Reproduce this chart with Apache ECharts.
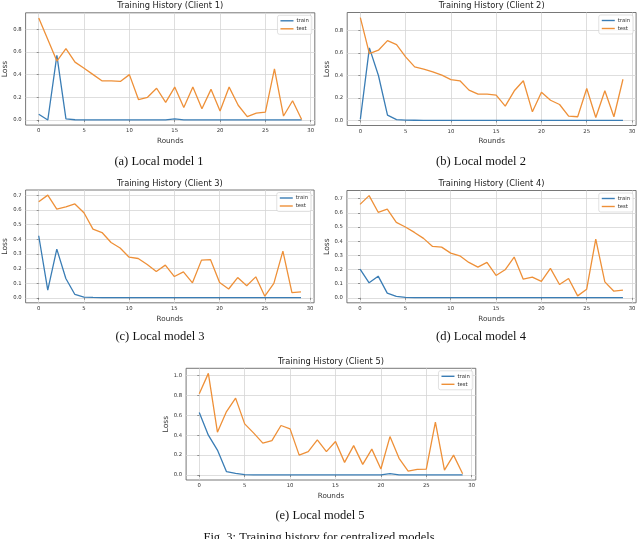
<!DOCTYPE html>
<html>
<head>
<meta charset="utf-8">
<script src="https://cdn.jsdelivr.net/npm/echarts@6/dist/echarts.min.js"></script>
<style>
html,body{margin:0;padding:0;background:#fff;}
#chart{width:640px;height:539px;}
</style>
</head>
<body>
<div id="chart"></div>
<script>
const rounds = [0,1,2,3,4,5,6,7,8,9,10,11,12,13,14,15,16,17,18,19,20,21,22,23,24,25,26,27,28,29];
const xTicks = [0,5,10,15,20,25,30];

const trainC1 = [0.05,0.0,0.57,0.01,0.002,0.001,0.001,0.001,0.001,0.001,0.001,0.001,0.001,0.001,0.001,0.01,0.001,0.001,0.001,0.001,0.001,0.001,0.001,0.001,0.001,0.001,0.001,0.001,0.001,0.001];
const testC1  = [0.90,0.71,0.52,0.63,0.51,0.456,0.40,0.344,0.344,0.34,0.40,0.18,0.20,0.28,0.155,0.29,0.11,0.29,0.10,0.27,0.08,0.29,0.13,0.03,0.06,0.07,0.45,0.035,0.17,0.005];

const trainC2 = [0.01,0.646,0.40,0.047,0.008,0.003,0.002,0.001,0.001,0.001,0.001,0.001,0.001,0.001,0.001,0.001,0.001,0.001,0.001,0.001,0.001,0.001,0.001,0.001,0.001,0.001,0.001,0.001,0.001,0.001];
const testC2  = [0.915,0.595,0.625,0.71,0.675,0.566,0.477,0.456,0.433,0.403,0.364,0.353,0.27,0.234,0.234,0.225,0.127,0.264,0.353,0.077,0.252,0.18,0.142,0.039,0.033,0.284,0.027,0.264,0.033,0.367];

const trainC3 = [0.423,0.052,0.332,0.132,0.023,0.005,0.003,0.002,0.001,0.001,0.001,0.001,0.001,0.001,0.001,0.001,0.001,0.001,0.001,0.001,0.001,0.001,0.001,0.001,0.001,0.001,0.001,0.001,0.001,0.001];
const testC3  = [0.655,0.70,0.605,0.62,0.64,0.58,0.468,0.445,0.377,0.34,0.277,0.268,0.227,0.18,0.223,0.145,0.177,0.102,0.257,0.26,0.105,0.06,0.138,0.082,0.143,0.011,0.098,0.318,0.036,0.041];

const trainC4 = [0.203,0.106,0.153,0.033,0.01,0.003,0.002,0.001,0.001,0.001,0.001,0.001,0.001,0.001,0.001,0.001,0.001,0.001,0.001,0.001,0.001,0.001,0.001,0.001,0.001,0.001,0.001,0.001,0.001,0.001];
const testC4  = [0.66,0.722,0.604,0.627,0.533,0.50,0.462,0.42,0.363,0.358,0.316,0.297,0.25,0.217,0.25,0.158,0.198,0.288,0.132,0.146,0.116,0.208,0.094,0.137,0.014,0.061,0.415,0.113,0.047,0.054];

const trainC5 = [0.627,0.40,0.25,0.033,0.017,0.003,0.002,0.001,0.001,0.001,0.001,0.001,0.001,0.001,0.001,0.001,0.001,0.001,0.001,0.001,0.001,0.015,0.002,0.001,0.001,0.001,0.001,0.001,0.001,0.001];
const testC5  = [0.815,1.02,0.43,0.637,0.772,0.513,0.42,0.32,0.345,0.497,0.463,0.20,0.235,0.352,0.235,0.336,0.127,0.295,0.107,0.26,0.06,0.386,0.168,0.04,0.057,0.06,0.53,0.05,0.20,0.013];

const yTicks12 = [0,0.2,0.4,0.6,0.8];
const yTicks34 = [0,0.1,0.2,0.3,0.4,0.5,0.6,0.7];
const yTicks5  = [0,0.2,0.4,0.6,0.8,1.0];

const titles = ['Training History (Client 1)','Training History (Client 2)','Training History (Client 3)','Training History (Client 4)','Training History (Client 5)'];
const captions = ['(a) Local model 1','(b) Local model 2','(c) Local model 3','(d) Local model 4','(e) Local model 5'];
const figCaption = 'Fig. 3: Training history for centralized models';

const panels = [
  {train: trainC1, test: testC1, yt: yTicks12, g: {left: 25.6, top: 12.8, width: 289.2, height: 112.3}, cap: [159, 162]},
  {train: trainC2, test: testC2, yt: yTicks12, g: {left: 347.2, top: 12.5, width: 288.9, height: 113}, cap: [481, 162]},
  {train: trainC3, test: testC3, yt: yTicks34, g: {left: 25.6, top: 190, width: 288.5, height: 112.8}, cap: [160, 337]},
  {train: trainC4, test: testC4, yt: yTicks34, g: {left: 346.9, top: 190.5, width: 289.2, height: 112.3}, cap: [481, 337]},
  {train: trainC5, test: testC5, yt: yTicks5, g: {left: 186.1, top: 368.3, width: 289.7, height: 111.7}, cap: [320, 516]}
];

const TRAIN = '#3a7db5', TEST = '#ee9038';
const FONT = '"DejaVu Sans", sans-serif';
const grids = [], xAxes = [], yAxes = [], series = [], legends = [], graphics = [];

panels.forEach((p, i) => {
  grids.push(Object.assign({show: true, borderColor: '#555', borderWidth: 0.8, backgroundColor: '#fff'}, p.g));
  const all = p.train.concat(p.test);
  const lo = Math.min(...all), hi = Math.max(...all), pad = 0.05 * (hi - lo);
  xAxes.push({
    type: 'value', gridIndex: i, min: -1.45, max: 30.45,
    name: 'Rounds', nameLocation: 'middle', nameGap: 12.5,
    nameTextStyle: {fontSize: 7.2, fontFamily: FONT, color: '#333'},
    axisLine: {show: false},
    axisTick: {show: true, length: 2, customValues: xTicks, lineStyle: {color: '#555', width: 0.6}},
    axisLabel: {fontSize: 5.3, fontFamily: FONT, color: '#333', margin: 3.5, customValues: xTicks},
    splitLine: {show: true, lineStyle: {color: '#d6d6d6', width: 0.8}}
  });
  yAxes.push({
    type: 'value', gridIndex: i, min: lo - pad, max: hi + pad,
    name: 'Loss', nameLocation: 'middle', nameGap: 13,
    nameTextStyle: {fontSize: 7.5, fontFamily: FONT, color: '#333'},
    axisLine: {show: false},
    axisTick: {show: true, length: 2, customValues: p.yt, lineStyle: {color: '#555', width: 0.6}},
    axisLabel: {fontSize: 5.3, fontFamily: FONT, color: '#333', margin: 4, customValues: p.yt, formatter: v => v.toFixed(1)},
    splitLine: {show: true, lineStyle: {color: '#d6d6d6', width: 0.8}}
  });
  series.push({
    name: 'train', type: 'line', xAxisIndex: i, yAxisIndex: i, showSymbol: false, symbol: 'none',
    lineStyle: {color: TRAIN, width: 1.3}, itemStyle: {color: TRAIN},
    data: rounds.map((r, k) => [r, p.train[k]]), animation: false, z: 3
  });
  series.push({
    name: 'test', type: 'line', xAxisIndex: i, yAxisIndex: i, showSymbol: false, symbol: 'none',
    lineStyle: {color: TEST, width: 1.3}, itemStyle: {color: TEST},
    data: rounds.map((r, k) => [r, p.test[k]]), animation: false, z: 3
  });
  legends.push({
    data: ['train', 'test'], orient: 'vertical',
    right: 640 - (p.g.left + p.g.width - 3), top: p.g.top + 2.5,
    icon: 'rect', itemWidth: 13, itemHeight: 1.4, itemGap: 3,
    padding: [3, 3, 3, 3], borderColor: '#ccc', borderWidth: 0.6, borderRadius: 2,
    backgroundColor: 'rgba(255,255,255,0.8)',
    textStyle: {fontSize: 5.3, fontFamily: FONT, color: '#333', padding: [0, 0, 0, -2]},
    selectedMode: false
  });
  graphics.push({
    type: 'text', x: p.g.left + p.g.width / 2, y: p.g.top - 6.5,
    style: {text: titles[i], font: '8.3px ' + FONT, fill: '#222', textAlign: 'center', textVerticalAlign: 'middle', align: 'center', verticalAlign: 'middle'}
  });
  graphics.push({
    type: 'text', x: p.cap[0], y: p.cap[1],
    style: {text: captions[i], font: '12.5px "Liberation Serif", serif', fill: '#111', textAlign: 'center', textVerticalAlign: 'middle', align: 'center', verticalAlign: 'middle'}
  });
});

graphics.push({
  type: 'text', x: 319, y: 531,
  style: {text: figCaption, font: '12.5px "Liberation Serif", serif', fill: '#111', textAlign: 'center', textVerticalAlign: 'top', align: 'center', verticalAlign: 'top'}
});

const chart = echarts.init(document.getElementById('chart'), null, {renderer: 'canvas'});
chart.setOption({
  backgroundColor: '#fff',
  animation: false,
  grid: grids, xAxis: xAxes, yAxis: yAxes, series: series, legend: legends, graphic: graphics
});
</script>
</body>
</html>
